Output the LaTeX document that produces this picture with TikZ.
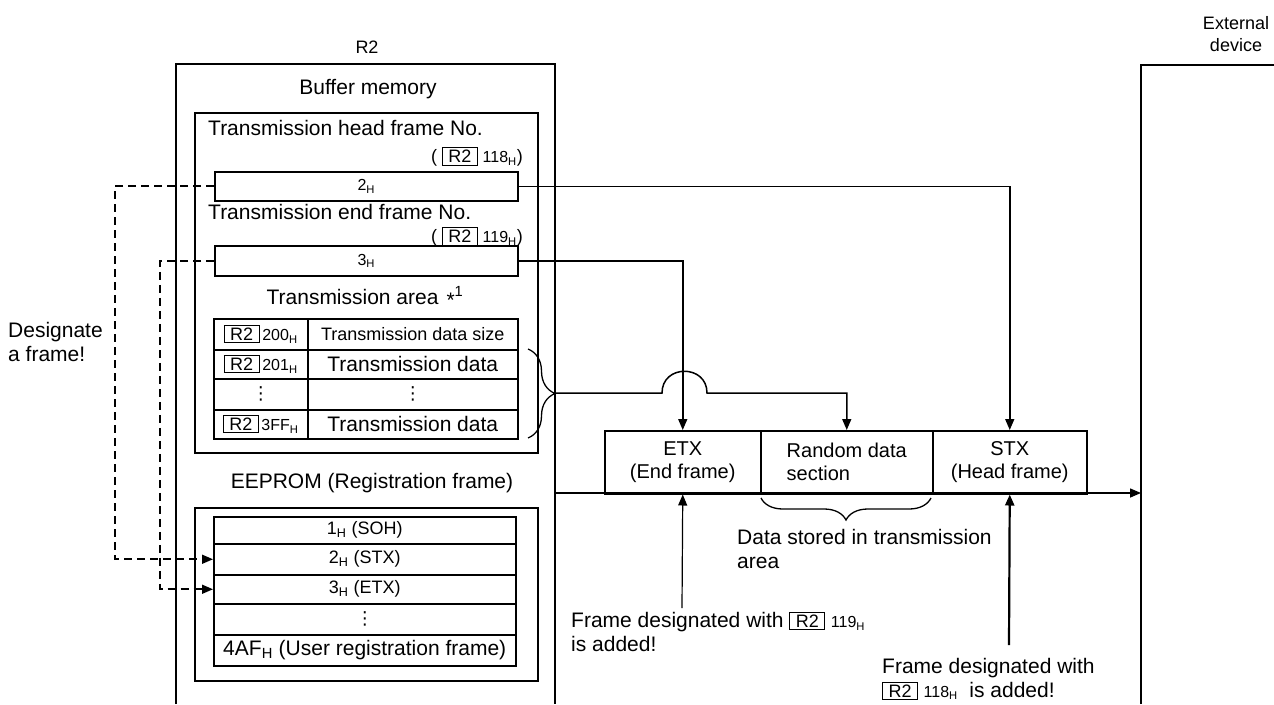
\documentclass[tikz,border=0pt]{standalone}
\usepackage{fontspec}
\setmainfont{Liberation Sans}
\newfontfamily\dejavu{DejaVu Sans}
\usetikzlibrary{arrows.meta,decorations.pathreplacing}
\newcommand\fbig{\fontsize{21}{24}\selectfont}
\newcommand\fmid{\fontsize{18}{22}\selectfont}
\newcommand\fsml{\fontsize{16}{19}\selectfont}
\newcommand\fframe{\fontsize{20}{23}\selectfont}
\newcommand\hsub{\textsubscript{H}}
\newcommand\rtwo{{\fmid\setlength\fboxsep{1.8pt}\setlength\fboxrule{1pt}\fbox{\kern3.5pt R2\kern3.5pt}}}
\newcommand\vdts{{\dejavu\fontsize{18}{22}\selectfont ⋮}}
\begin{document}
\begin{tikzpicture}[x=1pt,y=-1pt,
  box/.style={draw, line width=1.5pt, inner sep=0pt, anchor=north west},
  lbl/.style={inner sep=0pt, font=\fbig},
  conn/.style={line width=1.5pt},
  arr/.style={-{Triangle[length=11pt,width=9pt]}},
  dashconn/.style={line width=1.6pt, dash pattern=on 8pt off 5pt},
  outline/.style={line width=1.3pt}]
\useasboundingbox (0,0) rectangle (1274,704);

% outer frames
\draw[outline] (176,704) -- (176,64) -- (555,64) -- (555,704);
\draw[outline] (1141,704) -- (1141,65) -- (1274,65);
\node[lbl, font=\fmid] (r2lbl) at (367,47) {R2};
\node[lbl, font=\fmid, align=center] (extlbl) at (1236,34) {External\\device};

% buffer memory
\node[lbl] (bufl) at (368,89) {Buffer memory};
\node[box, minimum width=343pt, minimum height=340pt] (buf) at (194,112) {};
\node[lbl, anchor=west] (hfn) at (208,128) {Transmission head frame No.};
\node[lbl, anchor=east, font=\fmid] (hreg) at (523,157) {( \rtwo\ {\fsml 118\hsub})};
\node[box, minimum width=303pt, minimum height=29pt, font=\fsml] (h2) at (214,171) {2\hsub};
\node[lbl, anchor=west] (efn) at (208,212) {Transmission end frame No.};
\node[lbl, anchor=east, font=\fmid] (ereg) at (523,237) {( \rtwo\ {\fsml 119\hsub})};
\node[box, minimum width=303pt, minimum height=30pt, font=\fsml] (h3) at (214,245) {3\hsub};
\node[lbl] (tarea) at (365,297) {Transmission area\hspace{8pt}\raisebox{-3pt}{*}\textsuperscript{1}};

% transmission area table
\node[box, minimum width=94pt, minimum height=31pt] (ta1) at (213,318) {\rtwo\ {\fsml 200\hsub}};
\node[box, minimum width=210pt, minimum height=31pt, font=\fmid] (tb1) at (307,318) {Transmission data size};
\node[box, minimum width=94pt, minimum height=29pt] (ta2) at (213,349) {\rtwo\ {\fsml 201\hsub}};
\node[box, minimum width=210pt, minimum height=29pt, font=\fbig] (tb2) at (307,349) {Transmission data};
\node[box, minimum width=94pt, minimum height=31pt] (ta3) at (213,378) {\vdts};
\node[box, minimum width=210pt, minimum height=31pt] (tb3) at (307,378) {\vdts};
\node[box, minimum width=94pt, minimum height=29pt] (ta4) at (213,409) {\rtwo\ {\fsml 3FF\hsub}};
\node[box, minimum width=210pt, minimum height=29pt, font=\fbig] (tb4) at (307,409) {Transmission data};

% EEPROM
\node[lbl] (eel) at (372,483) {EEPROM (Registration frame)};
\node[box, minimum width=343pt, minimum height=173pt] (eebox) at (194,507) {};
\node[box, minimum width=302pt, minimum height=27pt, font=\fmid] (e1) at (213,516) {1\hsub\ (SOH)};
\node[box, minimum width=302pt, minimum height=31pt, font=\fmid] (e2) at (213,543) {2\hsub\ (STX)};
\node[box, minimum width=302pt, minimum height=29pt, font=\fmid] (e3) at (213,574) {3\hsub\ (ETX)};
\node[box, minimum width=302pt, minimum height=31pt] (e4) at (213,603) {\vdts};
\node[box, minimum width=302pt, minimum height=31pt, font=\fbig] (e5) at (213,634) {4AF\hsub\ (User registration frame)};

% designate
\node[lbl, anchor=west, align=left] (desig) at (8,342) {Designate\\a frame!};

% frame boxes
\node[box, minimum width=156pt, minimum height=63pt, align=center, font=\fframe] (fE) at (604,430) {ETX\\(End frame)};
\node[box, minimum width=172pt, minimum height=63pt, align=left, font=\fframe] (fR) at (760,430) {Random data\\section};
\node[box, minimum width=154pt, minimum height=63pt, align=center, font=\fframe] (fS) at (932,430) {STX\\(Head frame)};

% connectors
\draw[conn, arr] (h2.east) -| (fS.north);
\draw[conn, arr] (h3.east) -| (fE.north);
\coordinate (bt) at (528,349);
\coordinate (bb) at (528,438);
\draw[outline, decorate, decoration={brace, amplitude=27pt}] (bt) -- (bb);
\coordinate (btip) at (555,393);
\draw[conn, arr] (btip) -- (662,393) .. controls (662,364) and (707,364) .. (707,393) -| (fR.north);

\coordinate (ls) at (555,493);
\coordinate (le) at (1141,493);
\draw[conn, arr] (ls) -- (le);

\coordinate (rbr) at (931,498);
\coordinate (rbl) at (761,498);
\draw[outline, decorate, decoration={brace, amplitude=22pt}] (rbr) -- (rbl);
\node[lbl, anchor=west, align=left] (dstored) at (737,549) {Data stored in transmission\\area};

\coordinate (upE) at (682,608);
\draw[line width=1.2pt, arr] (upE) -- (fE.south);
\coordinate (upS) at (1009,645);
\draw[line width=2.2pt, arr] (upS) -- (fS.south);

\node[lbl, anchor=west, align=left] (t119) at (571,632) {Frame designated with \rtwo\ {\fsml 119\hsub}\\is added!};
\node[lbl, anchor=west, align=left] (t118) at (882,679) {Frame designated with\\\rtwo\ {\fsml 118\hsub}\ \ is added!};

% dashed designation
\draw[dashconn, arr] (h2.west) -- ++(-99,0) |- (e2.west);
\draw[dashconn, arr] (h3.west) -- ++(-54,0) |- (e3.west);
\end{tikzpicture}
\end{document}
